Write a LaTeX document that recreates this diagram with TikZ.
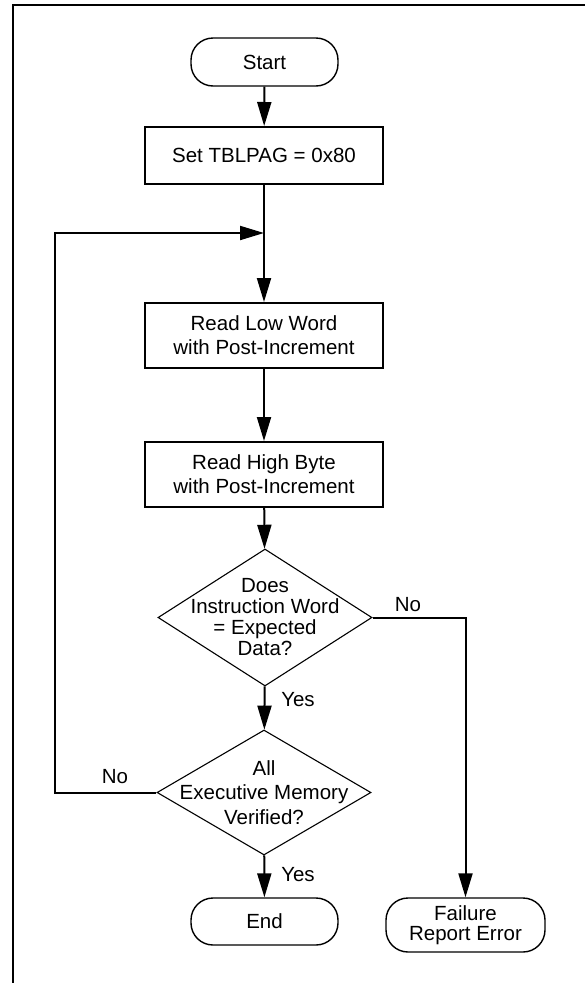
\documentclass[tikz,border=0pt]{standalone}
\usepackage{fontspec}
\setmainfont{Liberation Sans}
\usetikzlibrary{arrows.meta,shapes.geometric}
\tikzset{
  every node/.style={font=\fontsize{20.5}{24}\selectfont},
  proc/.style={draw, line width=2pt, rectangle, minimum width=238pt, inner sep=0pt, align=center},
  term/.style={draw, line width=1.4pt, rectangle, rounded corners=22pt, inner sep=0pt, align=center},
  dec/.style={draw, line width=1.1pt, diamond, inner sep=0pt, minimum width=214pt},
  conn/.style={line width=2pt},
  arr/.style={conn, -{Triangle[length=24pt,width=14pt]}},
  lbl/.style={inner sep=0pt}
}
\begin{document}
\begin{tikzpicture}[x=1pt,y=-1pt]
\useasboundingbox (0,0) rectangle (585,983);
\draw[line width=2.5pt] (13,983) -- (13,5) -- (585,5);

\node[term, minimum width=147pt, minimum height=48pt] (start) at (264.5,62) {Start};
\node[proc, minimum height=57pt] (set) at (264,155.5) {Set TBLPAG = 0x80};
\node[proc, minimum height=65pt] (low) at (264,335.5) {Read Low Word\\with Post-Increment};
\node[proc, minimum height=65pt] (high) at (264,474.5) {Read High Byte\\with Post-Increment};
\node[dec, minimum height=137pt,
  label={[align=center, font=\fontsize{20.5}{21}\selectfont]center:Does\\Instruction Word\\= Expected\\Data?}] (d1) at (265,617.5) {};
\node[dec, minimum height=125pt,
  label={[align=center, font=\fontsize{20.5}{24.5}\selectfont]center:All\\Executive Memory\\Verified?}] (d2) at (264,792.5) {};
\node[term, minimum width=147pt, minimum height=47pt] (end) at (264.5,921.5) {End};
\node[term, minimum width=159pt, minimum height=54pt, font=\fontsize{20.5}{20.5}\selectfont] (fail) at (465.5,925) {Failure\\Report Error};

\coordinate (merge) at (264,233);
\coordinate (lp) at (55,792.5);

\draw[arr] (start) -- (set);
\draw[arr] (set) -- (low);
\draw[arr] (low) -- (high);
\draw[arr] (high) -- (d1);
\draw[arr] (d1) -- (d2);
\draw[arr] (d2) -- (end);
\draw[arr] (d1.east) -| (fail.north);
\draw[arr] (d2.west) -- (lp) |- (merge);

\node[lbl] (yes1) at (298,700) {Yes};
\node[lbl] (yes2) at (298,875) {Yes};
\node[lbl] (no1) at (408,605) {No};
\node[lbl] (no2) at (115,777) {No};
\end{tikzpicture}
\end{document}
